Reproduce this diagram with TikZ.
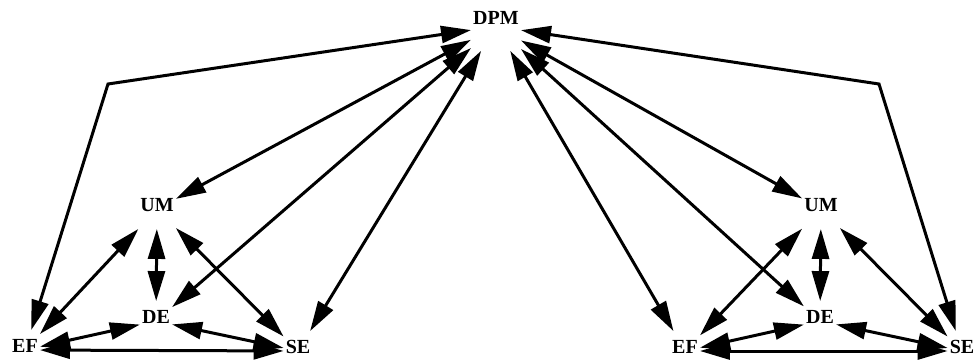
\documentclass[tikz,border=0pt]{standalone}
\usepackage{fontspec}
\setmainfont{Liberation Serif}
\usetikzlibrary{arrows.meta}
\tikzset{
  lab/.style={rectangle, inner xsep=2pt, inner ysep=9pt, text height=13.5pt, text depth=8pt,
    font=\fontsize{20}{24}\selectfont\bfseries},
  toplab/.style={lab, text depth=17pt},
  tip/.tip={Triangle[length=30pt,width=17pt]},
  link/.style={line width=3pt, {tip}-{tip}},
}
\begin{document}
\begin{tikzpicture}[x=1pt,y=-1pt]
\useasboundingbox (0,0) rectangle (979,360);
\node[toplab] (DPM) at (496,26.4) {DPM};
% left group
\node[lab] (UMl) at (157,209) {UM};
\node[lab] (DEl) at (156,321) {DE};
\node[lab] (EFl) at (25,350) {EF};
\node[lab] (SEl) at (298,351) {SE};
% right group
\node[lab] (UMr) at (821,209) {UM};
\node[lab] (DEr) at (820,321) {DE};
\node[lab] (EFr) at (685,351) {EF};
\node[lab] (SEr) at (962,351) {SE};
\coordinate (bendL) at (108,84);
\coordinate (bendR) at (879,84);
% left edges
\draw[link] (EFl) -- (UMl);
\draw[link] (EFl) -- (DEl);
\draw[link] (EFl) -- (SEl);
\draw[link] (UMl) -- (DEl);
\draw[link] (UMl) -- (SEl);
\draw[link] (DEl) -- (SEl);
\draw[link] (DPM) -- (bendL) -- (EFl);
\draw[link] (DPM) -- (UMl);
\draw[link] (DPM) -- (DEl);
\draw[link] (DPM) -- (SEl);
% right edges
\draw[link] (EFr) -- (UMr);
\draw[link] (EFr) -- (DEr);
\draw[link] (EFr) -- (SEr);
\draw[link] (UMr) -- (DEr);
\draw[link] (UMr) -- (SEr);
\draw[link] (DEr) -- (SEr);
\draw[link] (DPM) -- (bendR) -- (SEr);
\draw[link] (DPM) -- (UMr);
\draw[link] (DPM) -- (DEr);
\draw[link] (DPM) -- (EFr);
\end{tikzpicture}
\end{document}
